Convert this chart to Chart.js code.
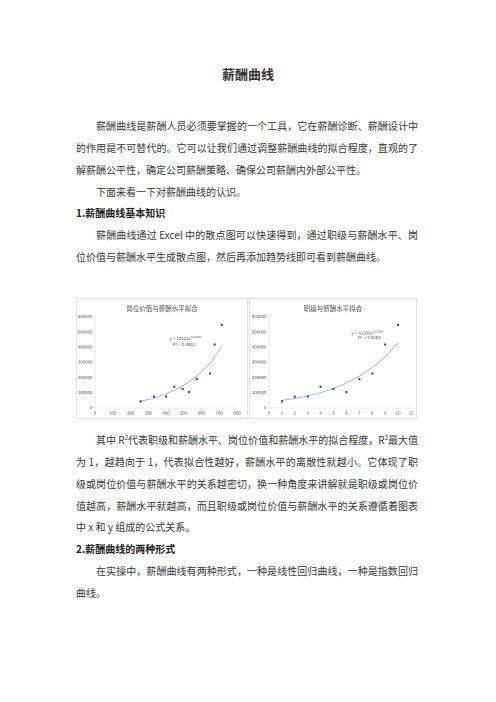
<!DOCTYPE html>
<html><head><meta charset="utf-8">
<script src="https://cdn.jsdelivr.net/npm/chart.js@4"></script>
<style>
html,body{margin:0;padding:0;background:#fff;width:496px;height:702px;overflow:hidden;}
body{position:relative;font-family:"Noto Sans CJK SC","Noto Sans",sans-serif;color:#3a3a3a;}
.t{position:absolute;left:0;width:496px;top:64px;text-align:center;font-size:13px;font-weight:bold;color:#333;}
.blk{position:absolute;left:76px;width:342px;font-size:10px;line-height:21.85px;}
.blk div{white-space:nowrap;}
.full{text-align:justify;text-align-last:justify;}
.ind{padding-left:20px;}
.b{font-weight:bold;color:#222;}
.box{position:absolute;top:298px;height:121px;border:1px solid #e3e3e3;box-sizing:border-box;background:#fff;}
.box canvas{position:absolute;left:-1px;top:-1px;}
.ct{position:absolute;left:0;right:0;top:4px;text-align:center;font-size:6.5px;color:#595959;white-space:nowrap;}
sup{font-size:6px;vertical-align:4px;}
</style></head><body>
<div class="t">薪酬曲线</div>
<div class="blk" style="top:115px">
<div class="full ind">薪酬曲线是薪酬人员必须要掌握的一个工具，它在薪酬诊断、薪酬设计中</div>
<div class="full">的作用是不可替代的。它可以让我们通过调整薪酬曲线的拟合程度，直观的了</div>
<div>解薪酬公平性，确定公司薪酬策略、确保公司薪酬内外部公平性。</div>
<div class="ind">下面来看一下对薪酬曲线的认识。</div>
<div class="b">1.薪酬曲线基本知识</div>
<div class="full ind">薪酬曲线通过 Excel 中的散点图可以快速得到，通过职级与薪酬水平、岗</div>
<div>位价值与薪酬水平生成散点图，然后再添加趋势线即可看到薪酬曲线。</div>
</div>
<div class="box" style="left:76px;width:172px"><canvas id="c1" width="172" height="122"></canvas><div class="ct">岗位价值与薪酬水平拟合</div></div>
<div class="box" style="left:249px;width:168px"><canvas id="c2" width="168" height="122"></canvas><div class="ct">职级与薪酬水平拟合</div></div>
<div class="blk" style="top:427px">
<div class="full ind">其中 R<sup>2</sup>代表职级和薪酬水平、岗位价值和薪酬水平的拟合程度，R<sup>2</sup>最大值</div>
<div class="full">为 1，越趋向于 1，代表拟合性越好，薪酬水平的离散性就越小。它体现了职</div>
<div class="full">级或岗位价值与薪酬水平的关系越密切，换一种角度来讲解就是职级或岗位价</div>
<div class="full">值越高，薪酬水平就越高，而且职级或岗位价值与薪酬水平的关系遵循着图表</div>
<div>中 x 和 y 组成的公式关系。</div>
<div class="b">2.薪酬曲线的两种形式</div>
<div class="full ind">在实操中，薪酬曲线有两种形式，一种是线性回归曲线，一种是指数回归</div>
<div>曲线。</div>
</div>
<script>
// ---- data ----
const salary = [44000, 75000, 76000, 140000, 126000, 105000, 190000, 227000, 418000, 548000];
const jobValue = [257, 332, 400, 447, 494, 530, 573, 648, 674, 714];
const jobLevel = [1, 2, 3, 4, 5, 6, 7, 8, 9, 10];
const trend1X = [255, 350, 450, 550, 650, 714];
const trend1Y = [44000, 72000, 118000, 190000, 300000, 405000];
const trend2X = [1, 2, 3, 4, 5, 6, 7, 8, 9, 10];
const trend2Y = [50000, 63500, 80500, 102000, 130000, 165000, 210000, 267000, 339000, 432000];
const eq1 = ["y = 12621e", "0.0049x", "R² = 0.8842"];
const eq2 = ["y = 41306e", "0.2269x", "R² = 0.9283"];

const pts = (xs, ys) => xs.map((x, i) => ({x: x, y: ys[i]}));
const tickFont = {size: 4.4, family: "Liberation Sans"};

const eqPlugin = {
  id: 'eq',
  afterDatasetsDraw(chart, args, opts) {
    const ctx = chart.ctx, xs = chart.scales.x, ys = chart.scales.y;
    ctx.save();
    ctx.fillStyle = '#595959';
    ctx.font = '4.3px "Liberation Sans"';
    ctx.textBaseline = 'middle';
    const px = xs.getPixelForValue(opts.x), py = ys.getPixelForValue(opts.y);
    const w1 = ctx.measureText(opts.text[0]).width;
    ctx.font = '3px "Liberation Sans"';
    const w2 = ctx.measureText(opts.text[1]).width;
    const sx = px - (w1 + w2) / 2;
    ctx.font = '4.3px "Liberation Sans"';
    ctx.fillText(opts.text[0], sx, py);
    ctx.font = '3px "Liberation Sans"';
    ctx.fillText(opts.text[1], sx + w1, py - 1.8);
    ctx.font = '4.3px "Liberation Sans"';
    ctx.textAlign = 'center';
    ctx.fillText(opts.text[2], xs.getPixelForValue(opts.x2), ys.getPixelForValue(opts.y2));
    ctx.restore();
  }
};

function make(id, xs, ys, tx, ty, xMax, xStep, padL, padR, eq) {
  new Chart(document.getElementById(id), {
    type: 'scatter',
    data: {datasets: [
      {data: pts(xs, ys), backgroundColor: '#3d47a3', borderColor: '#3d47a3', pointStyle: 'rect', pointRadius: 1.5, borderWidth: 0, order: 1},
      {type: 'line', data: pts(tx, ty), showLine: true, borderColor: '#8aa3d4', borderWidth: 0.7, pointRadius: 0, cubicInterpolationMode: 'monotone', fill: false, order: 2}
    ]},
    options: {
      responsive: false, animation: false, devicePixelRatio: 2,
      layout: {padding: {left: 0, right: padR, top: 19, bottom: 0}},
      plugins: {legend: {display: false}, tooltip: {enabled: false}, eq: eq},
      scales: {
        x: {type: 'linear', min: 0, max: xMax,
            ticks: {stepSize: xStep, font: tickFont, color: '#595959', padding: 2.5, maxRotation: 0, autoSkip: false,
                    callback: v => String(v)},
            grid: {display: false, drawTicks: false, tickLength: 0}, border: {color: '#d9d9d9', width: 0.6},
            afterFit(s) { s.height = 12; }},
        y: {min: 0, max: 600000,
            ticks: {stepSize: 100000, font: tickFont, color: '#595959', padding: 2.5, autoSkip: false,
                    callback: v => String(v)},
            grid: {display: false, drawTicks: false, tickLength: 0}, border: {color: '#d9d9d9', width: 0.6},
            afterFit(s) { s.width = padL; }}
      }
    },
    plugins: [eqPlugin]
  });
}
make('c1', jobValue, salary, trend1X, trend1Y, 800, 100, 19, 11,
     {x: 510, y: 455000, x2: 500, y2: 416000, text: eq1});
make('c2', jobLevel, salary, trend2X, trend2Y, 11, 1, 20, 6,
     {x: 7.63, y: 492000, x2: 7.77, y2: 463000, text: eq2});
</script>
</body></html>
